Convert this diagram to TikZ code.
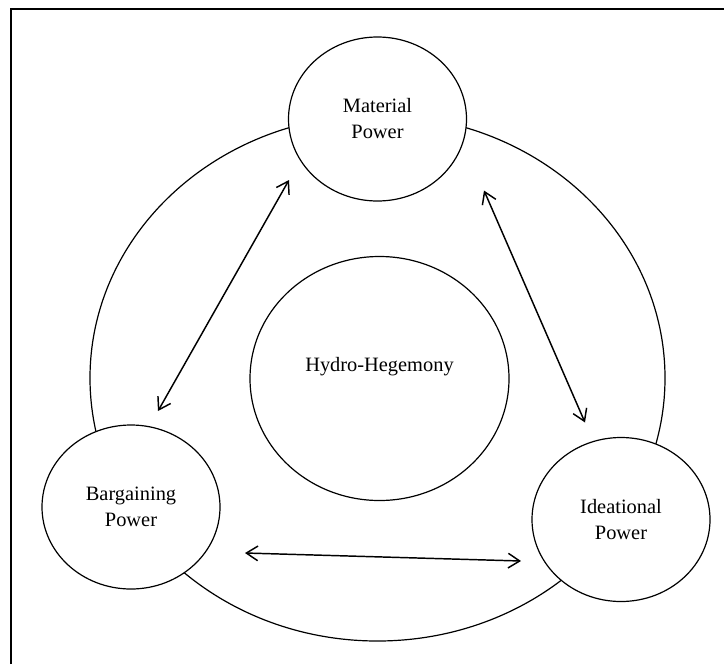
\documentclass[tikz,border=0pt]{standalone}
\usepackage{fontspec}
\setmainfont{Liberation Serif}
\usetikzlibrary{arrows.meta,shapes.geometric}
\begin{document}
\begin{tikzpicture}[x=0.75pt,y=-0.75pt,
  txt/.style={font=\fontsize{15.3}{19.5}\selectfont, align=center},
  power/.style={ellipse, draw, fill=white, line width=0.9pt, minimum width=133.5pt, minimum height=123pt, inner sep=0pt, txt},
  link/.style={{Straight Barb[length=8.6pt,width=11pt]}-{Straight Barb[length=8.6pt,width=11pt]}, line width=1.1pt},
  framestyle/.style={line width=1.5pt}]
\useasboundingbox (0,0) rectangle (724,664);
\draw[framestyle] (11,664) -- (11,9) -- (724,9);
\draw[line width=0.9pt] (377.5,378) ellipse [x radius=287.5, y radius=263];
\node[power] (mat) at (377.5,119) {Material\\Power};
\node[power] (barg) at (131,507) {Bargaining\\Power};
\node[power] (idea) at (621,519.5) {Ideational\\Power};
\node[ellipse, draw, line width=0.9pt, minimum width=194.25pt, minimum height=183pt, inner sep=0pt] (hydro) at (379.5,378.5) {};
\node[txt] (hydrotext) at (379.5,367) {Hydro-Hegemony};
\coordinate (a1) at (289,180);
\coordinate (a2) at (158,411);
\coordinate (b1) at (484,190.5);
\coordinate (b2) at (585,422.5);
\coordinate (c1) at (245,553);
\coordinate (c2) at (521,561);
\draw[link] (a1) -- (a2);
\draw[link] (b1) -- (b2);
\draw[link] (c1) -- (c2);
\end{tikzpicture}
\end{document}
